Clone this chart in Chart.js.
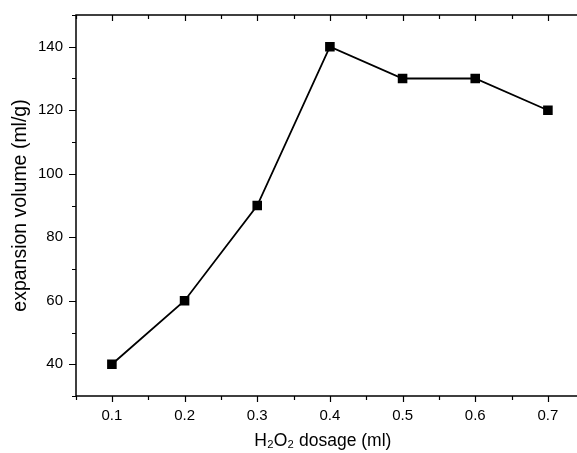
<!DOCTYPE html>
<html>
<head>
<meta charset="utf-8">
<script src="https://cdn.jsdelivr.net/npm/chart.js@4/dist/chart.umd.min.js"></script>
<style>
  html, body { margin: 0; padding: 0; background: #fff; overflow: hidden; }
  #wrap { width: 577px; height: 453px; }
</style>
</head>
<body>
<div id="wrap"><canvas id="c" width="577" height="453"></canvas></div>
<script>
const dosage = [0.1, 0.2, 0.3, 0.4, 0.5, 0.6, 0.7];
const volume = [40, 60, 90, 140, 130, 130, 120];
const yLabels = [40, 60, 80, 100, 120, 140];

// frame ticks: outward on left/bottom, inward on top; majors longer
const frameTicks = {
    id: 'frameTicks',
    afterDraw(chart) {
        const ctx = chart.ctx;
        const a = chart.chartArea;
        const x = chart.scales.x, y = chart.scales.y;
        ctx.save();
        ctx.strokeStyle = '#000';
        ctx.lineWidth = 1.5;
        ctx.beginPath();
        ctx.moveTo(a.left, a.bottom);
        ctx.lineTo(a.left, a.top);
        ctx.lineTo(chart.width, a.top);
        ctx.moveTo(a.left, a.bottom);
        ctx.lineTo(chart.width, a.bottom);
        ctx.stroke();
        ctx.lineWidth = 1.2;
        ctx.beginPath();
        for (let i = 1; i <= 15; i++) {
            const len = i % 2 === 0 ? 6 : 4;
            const px = Math.round(x.getPixelForValue(i * 0.05)) + 0.5;
            if (px < a.left || px > chart.width) continue;
            ctx.moveTo(px, a.bottom);
            ctx.lineTo(px, a.bottom + len);
            ctx.moveTo(px, a.top);
            ctx.lineTo(px, a.top + len);
        }
        for (let v = 30; v <= 150; v += 10) {
            const len = v % 20 === 0 ? 7 : 4;
            const py = Math.round(y.getPixelForValue(v)) + 0.5;
            ctx.moveTo(a.left, py);
            ctx.lineTo(a.left - len, py);
        }
        ctx.stroke();
        ctx.restore();
    }
};

new Chart(document.getElementById('c'), {
    type: 'scatter',
    data: {
        datasets: [{
            data: dosage.map((d, i) => ({ x: d, y: volume[i] })),
            showLine: true,
            borderColor: '#000',
            borderWidth: 1.8,
            backgroundColor: '#000',
            pointStyle: 'rect',
            pointRadius: 5.5,
            pointHoverRadius: 5.5
        }]
    },
    options: {
        responsive: false,
        animation: false,
        layout: { padding: { top: 15, right: 0, left: 0, bottom: 0 } },
        plugins: { legend: { display: false }, tooltip: { enabled: false } },
        scales: {
            x: {
                type: 'linear',
                min: 0.0506,
                max: 0.730,
                afterFit: s => { s.height = 57; s.paddingLeft = 0; s.paddingRight = 0; },
                afterBuildTicks: s => { s.ticks = dosage.map(v => ({ value: v })); },
                grid: { display: false, drawTicks: false },
                border: { display: false },
                ticks: {
                    color: '#000',
                    padding: 11,
                    font: { family: 'Liberation Sans', size: 15 },
                    callback: v => v.toFixed(1)
                },
                title: {
                    display: true,
                    text: 'H₂O₂ dosage (ml)',
                    color: '#000',
                    font: { family: 'Liberation Sans', size: 17.5 },
                    padding: { top: 2, bottom: 1 }
                }
            },
            y: {
                min: 30,
                max: 150,
                afterFit: s => { s.width = 76; s.paddingTop = 0; s.paddingBottom = 0; },
                afterBuildTicks: s => { s.ticks = yLabels.map(v => ({ value: v })); },
                grid: { display: false, drawTicks: false },
                border: { display: false },
                ticks: {
                    color: '#000',
                    padding: 13,
                    font: { family: 'Liberation Sans', size: 15 }
                },
                title: {
                    display: true,
                    text: 'expansion volume (ml/g)',
                    color: '#000',
                    font: { family: 'Liberation Sans', size: 19.5 },
                    padding: { top: 9, bottom: 0 }
                }
            }
        }
    },
    plugins: [frameTicks]
});
</script>
</body>
</html>
